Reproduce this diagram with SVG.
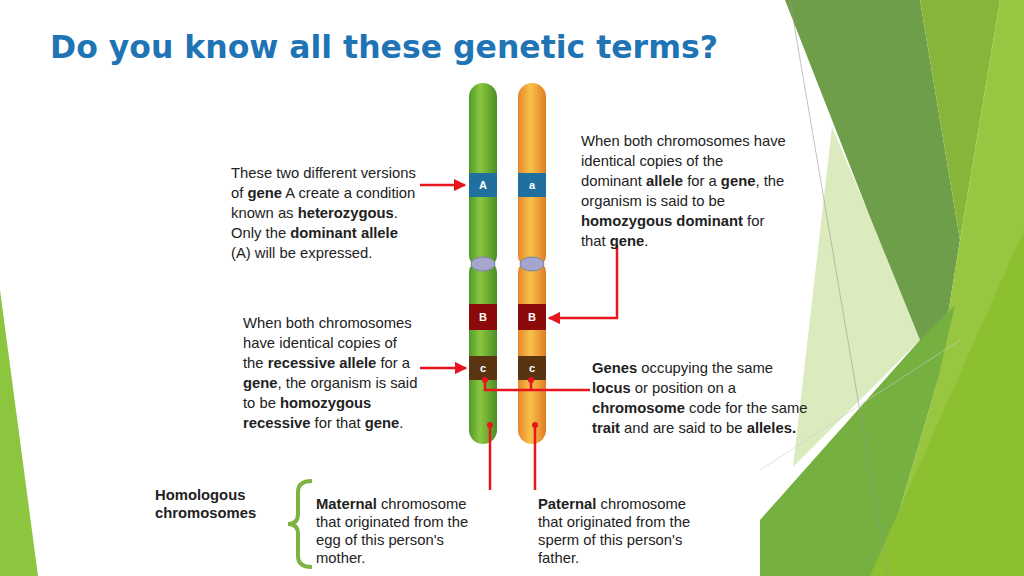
<svg xmlns="http://www.w3.org/2000/svg" width="1024" height="576" viewBox="0 0 1024 576">
<defs>
<linearGradient id="gG" x1="0" x2="1"><stop offset="0" stop-color="#4f9a2a"/><stop offset="0.4" stop-color="#8cc63f"/><stop offset="1" stop-color="#4a8f25"/></linearGradient>
<linearGradient id="gO" x1="0" x2="1"><stop offset="0" stop-color="#e8862a"/><stop offset="0.45" stop-color="#f7c24a"/><stop offset="1" stop-color="#e07b22"/></linearGradient>
<marker id="ah" viewBox="0 0 10 10" refX="9" refY="5" markerWidth="5" markerHeight="5" orient="auto"><path d="M0,0L10,5L0,10z" fill="#e8141e"/></marker>
</defs>
<style>
.t{font-family:"Liberation Sans",Arial,sans-serif;font-size:14.8px;fill:#222}
.b{font-weight:bold}
.r{stroke:#e8141e;stroke-width:2.5;fill:none}
.lbl{font-family:"Liberation Sans",Arial,sans-serif;font-size:11px;font-weight:bold;fill:#fff;text-anchor:middle}
</style>
<rect width="1024" height="576" fill="#fff"/>
<g id="background">
<polygon points="0,290 38,576 0,576" fill="#8cc63f"/>
<polygon points="832,127 870,217 920,340 793,467" fill="#dcebbd"/>
<polygon points="785,0 920,0 960,240 937,383 920,340 870,217" fill="#6e9e4a"/>
<polygon points="920,0 1000,0 960,240" fill="#86b53a"/>
<polygon points="1000,0 1024,0 1024,576 880,576 937,383 960,240" fill="#98c640"/>
<polygon points="920,340 955,305 937,383 880,576 760,576 760,520" fill="#76b041"/>
<polygon points="1024,230 870,576 1024,576" fill="#8dc030"/>
<line x1="790" y1="0" x2="888" y2="576" stroke="#999" stroke-width="0.6"/>
<line x1="760" y1="470" x2="960" y2="340" stroke="#ccc" stroke-width="0.6"/>
</g>
<text id="title" x="50" y="58" font-family="DejaVu Sans Condensed,DejaVu Sans,sans-serif" font-weight="bold" font-size="32" fill="#1f74b5" textLength="668" lengthAdjust="spacingAndGlyphs">Do you know all these genetic terms?</text>
<g id="chromosome-maternal">
<rect x="469" y="83" width="28" height="186" rx="14" fill="url(#gG)"/>
<rect x="469" y="259" width="28" height="185" rx="14" fill="url(#gG)"/>
<rect x="469" y="173" width="28" height="24" fill="#1f6f9f"/><text class="lbl" x="483" y="189">A</text>
<rect x="469" y="304" width="28" height="26" fill="#8b0a0a"/><text class="lbl" x="483" y="321">B</text>
<rect x="469" y="356" width="28" height="24" fill="#5a3410"/><text class="lbl" x="483" y="372">c</text>
<ellipse cx="483" cy="264" rx="12" ry="7" fill="#a4a6cc" stroke="#7e80aa"/>
</g>
<g id="chromosome-paternal">
<rect x="518" y="83" width="28" height="186" rx="14" fill="url(#gO)"/>
<rect x="518" y="259" width="28" height="185" rx="14" fill="url(#gO)"/>
<rect x="518" y="173" width="28" height="24" fill="#1f6f9f"/><text class="lbl" x="532" y="189">a</text>
<rect x="518" y="304" width="28" height="26" fill="#8b0a0a"/><text class="lbl" x="532" y="321">B</text>
<rect x="518" y="356" width="28" height="24" fill="#5a3410"/><text class="lbl" x="532" y="372">c</text>
<ellipse cx="532" cy="264" rx="12" ry="7" fill="#a4a6cc" stroke="#7e80aa"/>
</g>
<g id="connectors">
<line class="r" x1="420" y1="185" x2="465" y2="185" marker-end="url(#ah)"/>
<line class="r" x1="420" y1="368" x2="466" y2="368" marker-end="url(#ah)"/>
<polyline class="r" points="617,245 617,318 549,318" marker-end="url(#ah)"/>
<polyline class="r" points="485,380 485,390 590,390"/>
<line class="r" x1="531" y1="380" x2="531" y2="390"/>
<circle cx="485" cy="380" r="3" fill="#e8141e"/><circle cx="531" cy="380" r="3" fill="#e8141e"/>
<line class="r" x1="490" y1="425" x2="490" y2="490"/>
<line class="r" x1="535" y1="425" x2="535" y2="490"/>
<circle cx="490" cy="425" r="3" fill="#e8141e"/><circle cx="535" cy="425" r="3" fill="#e8141e"/>
</g>
<g id="text-heterozygous" class="t">
<text x="231" y="178">These two different versions</text>
<text x="231" y="198">of <tspan class="b">gene</tspan> A create a condition</text>
<text x="231" y="218">known as <tspan class="b">heterozygous</tspan>.</text>
<text x="231" y="238">Only the <tspan class="b">dominant allele</tspan></text>
<text x="231" y="258">(A) will be expressed.</text>
</g>
<g id="text-homdom" class="t">
<text x="581" y="146">When both chromosomes have</text>
<text x="581" y="166">identical copies of the</text>
<text x="581" y="186">dominant <tspan class="b">allele</tspan> for a <tspan class="b">gene</tspan>, the</text>
<text x="581" y="206">organism is said to be</text>
<text x="581" y="226"><tspan class="b">homozygous dominant</tspan> for</text>
<text x="581" y="246">that <tspan class="b">gene</tspan>.</text>
</g>
<g id="text-homrec" class="t">
<text x="243" y="328">When both chromosomes</text>
<text x="243" y="348">have identical copies of</text>
<text x="243" y="368">the <tspan class="b">recessive allele</tspan> for a</text>
<text x="243" y="388"><tspan class="b">gene</tspan>, the organism is said</text>
<text x="243" y="408">to be <tspan class="b">homozygous</tspan></text>
<text x="243" y="428"><tspan class="b">recessive</tspan> for that <tspan class="b">gene</tspan>.</text>
</g>
<g id="text-alleles" class="t">
<text x="592" y="373"><tspan class="b">Genes</tspan> occupying the same</text>
<text x="592" y="393"><tspan class="b">locus</tspan> or position on a</text>
<text x="592" y="413"><tspan class="b">chromosome</tspan> code for the same</text>
<text x="592" y="433"><tspan class="b">trait</tspan> and are said to be <tspan class="b">alleles.</tspan></text>
</g>
<g id="homologous" class="t">
<text x="155" y="500" class="b">Homologous</text>
<text x="155" y="518" class="b">chromosomes</text>
<path d="M312,481 Q298,481 298,492 L298,514 Q298,524 288,524 Q298,524 298,534 L298,556 Q298,567 312,567" fill="none" stroke="#7cb342" stroke-width="4"/>
</g>
<g id="text-maternal" class="t">
<text x="316" y="509"><tspan class="b">Maternal</tspan> chromosome</text>
<text x="316" y="527">that originated from the</text>
<text x="316" y="545">egg of this person's</text>
<text x="316" y="563">mother.</text>
</g>
<g id="text-paternal" class="t">
<text x="538" y="509"><tspan class="b">Paternal</tspan> chromosome</text>
<text x="538" y="527">that originated from the</text>
<text x="538" y="545">sperm of this person's</text>
<text x="538" y="563">father.</text>
</g>
</svg>
